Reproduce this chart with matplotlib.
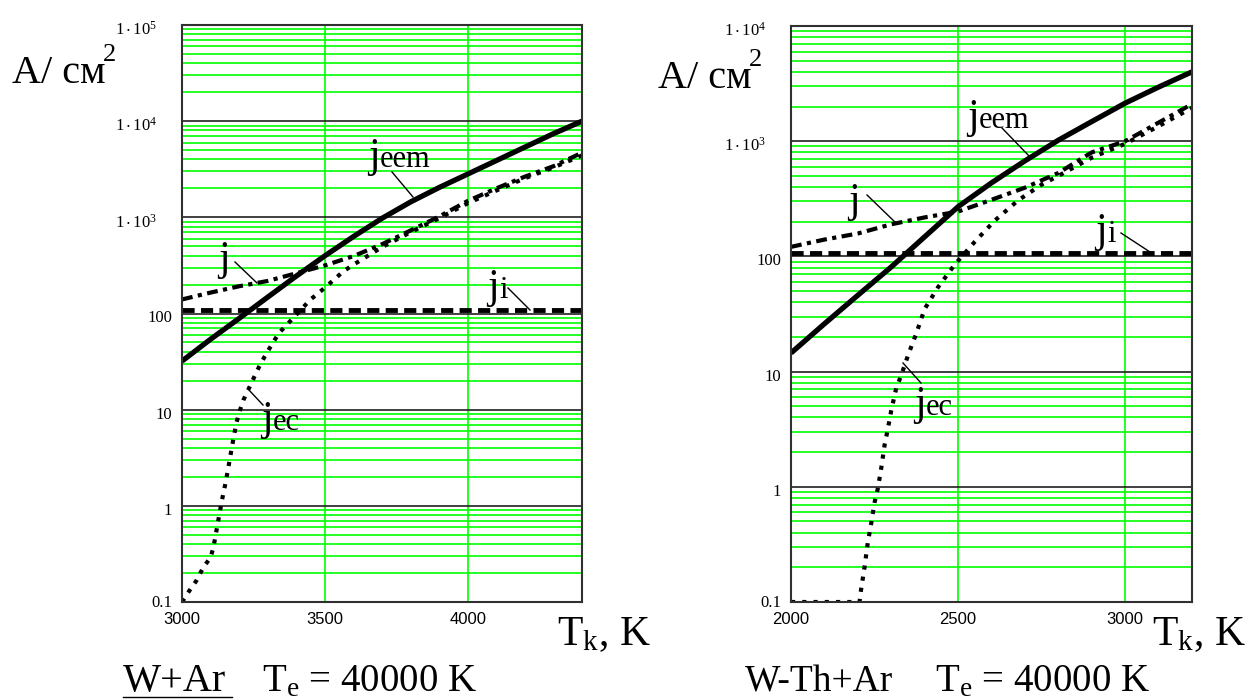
import numpy as np
import matplotlib
matplotlib.use('Agg')
import matplotlib.pyplot as plt
from matplotlib.ticker import LogLocator, NullFormatter
from matplotlib.lines import Line2D
import matplotlib.transforms as mtransforms

plt.rcParams['font.family'] = ['Liberation Serif', 'DejaVu Serif']
plt.rcParams['mathtext.fontset'] = 'custom'
plt.rcParams['mathtext.rm'] = 'Liberation Serif'
plt.rcParams['mathtext.it'] = 'Liberation Serif:italic'

W, H = 1251, 700
GREEN = '#00ff00'

# ---- W+Ar (левый график) ----
T_eem_l = [3000, 3100, 3200, 3300, 3400, 3500, 3600, 3700, 3800, 3900, 4000, 4100, 4200, 4300, 4400]
jeem_l = [32, 54, 89, 148, 245, 398, 631, 977, 1445, 2042, 2818, 3890, 5370, 7410, 10000]

T_j_l = [3000, 3100, 3200, 3300, 3400, 3500, 3600, 3700, 3800, 3900, 4000, 4100, 4200, 4300, 4400]
j_l = [140, 165, 192, 218, 262, 316, 395, 525, 730, 1020, 1480, 2000, 2650, 3400, 4700]

T_ec_l = [3000, 3025, 3050, 3075, 3100, 3110, 3120, 3130, 3140, 3150, 3160, 3170, 3180, 3190,
          3200, 3215, 3250, 3270, 3290, 3315, 3340, 3375, 3450, 3490, 3530, 3565, 3606, 3700,
          3800, 3900, 4000, 4100, 4200, 4300, 4400]
jec_l = [0.1, 0.13, 0.166, 0.23, 0.29, 0.37, 0.54, 0.79, 1.15, 1.6, 2.3, 3.4, 5.0, 7.2,
         9.3, 12.6, 21, 28, 36, 48, 63, 81, 140, 175, 222, 275, 330, 490,
         700, 980, 1400, 1900, 2550, 3300, 4400]

T_i_l = [3000, 4400]
ji_l = [108, 108]

# ---- W-Th+Ar (правый график) ----
T_eem_r = [2000, 2100, 2200, 2300, 2400, 2500, 2600, 2700, 2800, 2900, 3000, 3100, 3200]
jeem_r = [14.5, 26, 46, 81, 148, 270, 435, 675, 1020, 1480, 2140, 2950, 4000]

T_j_r = [2000, 2100, 2200, 2300, 2400, 2500, 2600, 2700, 2800, 2900, 3000, 3100, 3200]
j_r = [121, 140, 158, 190, 218, 245, 310, 395, 530, 800, 1000, 1450, 2100]

T_ec_r = [2000, 2100, 2205, 2210, 2220, 2230, 2240, 2250, 2260, 2270, 2280, 2290, 2300,
          2315, 2330, 2350, 2375, 2400, 2440, 2490, 2550, 2610, 2680, 2750, 2800, 2900,
          3000, 3100, 3200]
jec_r = [0.1, 0.1, 0.1, 0.13, 0.2, 0.33, 0.48, 0.73, 0.97, 1.45, 2.3, 3.2, 4.6,
         7.2, 9.3, 13.8, 21.5, 35, 54, 85, 134, 205, 307, 420, 500, 720,
         950, 1350, 1950]

T_i_r = [2000, 3200]
ji_r = [108, 108]

xticks_l = [3000, 3500, 4000]
xticks_r = [2000, 2500, 3000]
ylim_l = (0.1, 1e5)
ylim_r = (0.1, 1e4)


def fxy(x, y):
    return x / W, 1 - y / H


def setup(ax, xlim, ylim, xticks):
    ax.set_yscale('log')
    ax.set_xlim(xlim)
    ax.set_ylim(ylim)
    ax.set_xticks(xticks)
    ax.set_xticklabels([str(t) for t in xticks], fontfamily='Liberation Sans', fontsize=12)
    ax.yaxis.set_major_locator(LogLocator(base=10, numticks=20))
    ax.yaxis.set_minor_locator(LogLocator(base=10, subs=range(2, 10), numticks=20))
    ax.yaxis.set_minor_formatter(NullFormatter())
    ax.tick_params(axis='both', which='both', length=0)
    ax.tick_params(axis='x', pad=7)
    ax.tick_params(axis='y', labelleft=False)
    ax.set_axisbelow(True)
    ax.grid(axis='y', which='minor', color=GREEN, lw=1.2)
    ax.grid(axis='y', which='major', color='#202020', lw=1.2)
    ax.grid(axis='x', which='major', color=GREEN, lw=1.2)
    for s in ax.spines.values():
        s.set_color('#303030')
        s.set_linewidth(1.5)
    # подписи по оси y в стиле MathCad
    dec = 10.0 ** np.arange(np.log10(ylim[0]), np.log10(ylim[1]) + 0.5)
    width = ax.get_position().width * W
    for v in dec:
        if v > 100:
            lab = r'$\mathregular{1\cdot10^{%d}}$' % round(np.log10(v))
            xoff, yoff = -25 / width, -10
        else:
            lab = '%g' % v
            xoff, yoff = -10 / width, -9
        if v == ylim[0]:
            yoff = -5
        trans = mtransforms.offset_copy(ax.get_yaxis_transform(), fig=fig, x=0, y=yoff, units='dots')
        ax.text(xoff, v, lab, transform=trans, ha='right', va='baseline', fontsize=12)


def draw(ax, Te, je, Tj, jj, Tc, jc, Ti, ji):
    ax.plot(Ti, ji, color='black', lw=3.5, linestyle=(0, (2.5, 1.3)), dash_capstyle='butt')
    ax.plot(Tc, jc, color='black', lw=3, linestyle=(0, (1, 1.7)), dash_capstyle='butt')
    ax.plot(Tj, jj, color='black', lw=3, linestyle=(0, (2.6, 1.3, 1, 1.3)), dash_capstyle='butt')
    ax.plot(Te, je, color='black', lw=3.8, solid_capstyle='butt')


def label(x, base, sub, leader):
    fig.text(*fxy(x, base), 'j', fontsize=30, va='baseline')
    fig.text(*fxy(x + 12, base), sub, fontsize=22, va='baseline')
    (x1, y1), (x2, y2) = leader
    fig.add_artist(Line2D([x1 / W, x2 / W], [1 - y1 / H, 1 - y2 / H],
                          transform=fig.transFigure, color='black', lw=1))


fig = plt.figure(figsize=(W / 100, H / 100), dpi=100)
axl = fig.add_axes([182 / W, 98 / H, 400 / W, 577 / H])
axr = fig.add_axes([791 / W, 98 / H, 401 / W, 576 / H])

setup(axl, (3000, 4400), ylim_l, xticks_l)
setup(axr, (2000, 3200), ylim_r, xticks_r)

draw(axl, T_eem_l, jeem_l, T_j_l, j_l, T_ec_l, jec_l, T_i_l, ji_l)
draw(axr, T_eem_r, jeem_r, T_j_r, j_r, T_ec_r, jec_r, T_i_r, ji_r)

# подписи кривых (левый)
label(368, 167, 'eem', ((392, 172), (413, 197)))
label(218, 270, '', ((235, 262), (257, 283)))
label(487, 298, 'i', ((508, 288), (530, 310)))
label(261, 430, 'ec', ((248, 389), (263, 405)))
# подписи кривых (правый)
label(967, 128, 'eem', ((1002, 128), (1030, 157)))
label(848, 212, '', ((867, 195), (897, 224)))
label(1095, 242, 'i', ((1121, 233), (1150, 252)))
label(914, 415, 'ec', ((903, 363), (921, 383)))

# единицы и оси
for x0, yb in [(12, 83), (658, 88)]:
    fig.text(*fxy(x0, yb), 'A/ см', fontsize=29, va='baseline')
    fig.text(*fxy(x0 + 91, yb - 22), '2', fontsize=19, va='baseline')

for x0 in [557, 1152]:
    fig.text(*fxy(x0, 645), r'$\mathregular{T_k}$, K', fontsize=30, va='baseline')

fig.text(*fxy(123, 691), 'W+Ar', fontsize=29, va='baseline')
fig.add_artist(Line2D([123 / W, 232 / W], [1 - 697 / H, 1 - 697 / H],
                      transform=fig.transFigure, color='black', lw=1))
fig.text(*fxy(262, 691), r'$\mathregular{T_e}$ = 40000 K', fontsize=28, va='baseline')

fig.text(*fxy(745, 691), 'W-Th+Ar', fontsize=27, va='baseline')
fig.text(*fxy(935, 691), r'$\mathregular{T_e}$ = 40000 K', fontsize=28, va='baseline')

fig.savefig('out.png', dpi=100, facecolor='white')
